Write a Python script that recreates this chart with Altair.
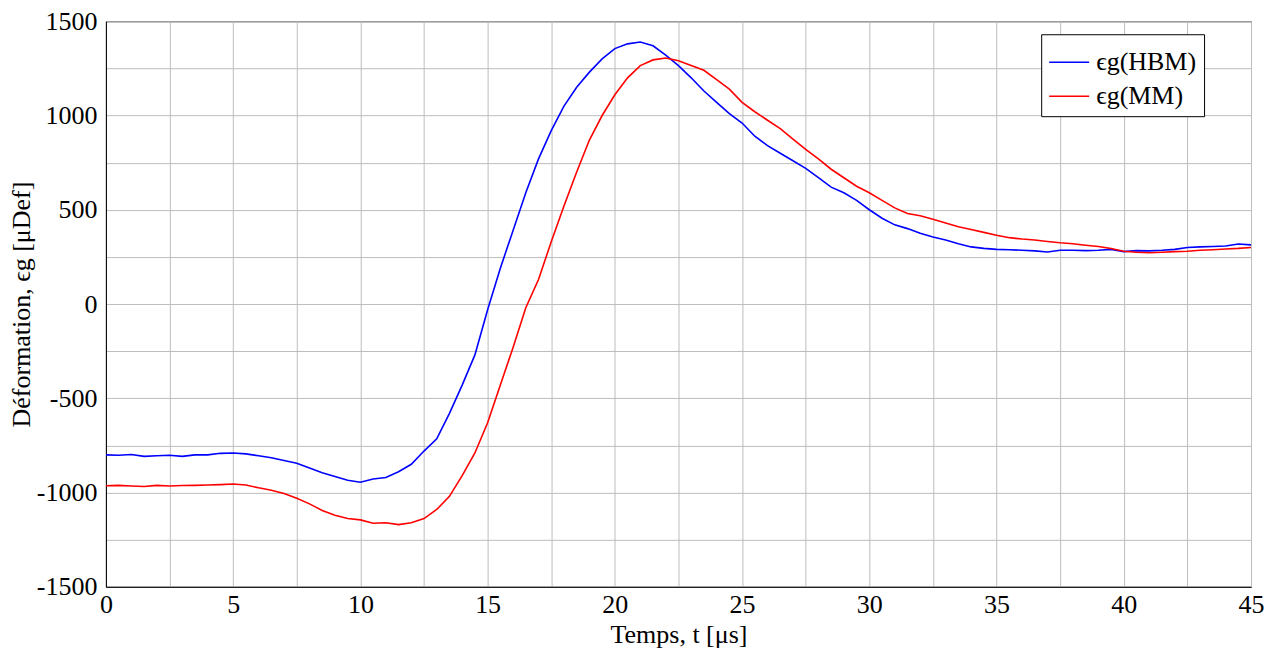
import altair as alt
import pandas as pd

t = [i * 0.5 for i in range(91)]

hbm = [-800, -802, -798, -808, -805, -802, -808, -800, -800, -792,
       -790, -795, -805, -815, -830, -845, -870, -895, -915, -935,
       -945, -928, -920, -890, -850, -780, -715, -580, -430, -270,
       -30, 190, 390, 590, 770, 920, 1050, 1150, 1230, 1300,
       1355, 1380, 1390, 1370, 1320, 1265, 1200, 1130, 1070, 1010,
       960, 890, 840, 800, 760, 720, 670, 620, 590, 550,
       500, 455, 420, 400, 375, 355, 340, 320, 303, 295,
       290, 288, 285, 282, 276, 285, 285, 283, 285, 290,
       278, 283, 282, 285, 290, 300, 303, 305, 308, 318, 314]

mm = [-964, -962, -965, -968, -962, -965, -963, -962, -960, -958,
      -955, -960, -975, -988, -1005, -1030, -1060, -1095, -1120, -1138,
      -1145, -1163, -1160, -1170, -1160, -1138, -1090, -1020, -910, -790,
      -630, -430, -230, -20, 130, 330, 520, 700, 870, 1000,
      1110, 1200, 1265, 1295, 1305, 1290, 1265, 1240, 1190, 1140,
      1070, 1020, 975, 930, 875, 820, 770, 715, 670, 625,
      590, 550, 510, 480, 468, 450, 430, 410, 395, 380,
      365, 352, 345, 340, 332, 325, 320, 312, 305, 295,
      280, 275, 272, 275, 278, 280, 285, 288, 292, 295, 300]

series_names = ["ϵg(HBM)", "ϵg(MM)"]
series_colors = ["#0000ff", "#ff0000"]

x_ticks = [i * 2.5 for i in range(19)]
y_ticks = [-1500 + i * 250 for i in range(13)]

rows = []
for name, vals in zip(series_names, [hbm, mm]):
    for ti, v in zip(t, vals):
        rows.append({"t": ti, "v": v, "s": name})
df = pd.DataFrame(rows)

FONT = "Liberation Serif"
FS = 26

chart = alt.Chart(df).mark_line(strokeWidth=1.6, clip=True).encode(
    x=alt.X("t:Q", scale=alt.Scale(domain=[0, 45], nice=False, zero=False),
            axis=alt.Axis(values=x_ticks, title="Temps, t [μs]",
                          labelExpr="datum.value % 5 == 0 ? datum.label : ''",
                          labelFlush=False, labelOverlap=False, ticks=False,
                          labelPadding=5, titlePadding=4)),
    y=alt.Y("v:Q", scale=alt.Scale(domain=[-1500, 1500], nice=False, zero=False),
            axis=alt.Axis(values=y_ticks, title="Déformation, ϵg [μDef]",
                          labelExpr="datum.value % 500 == 0 ? (datum.value < 0 ? '-' + abs(datum.value) : '' + datum.value) : ''",
                          labelFlush=False, labelOverlap=False, ticks=False,
                          labelPadding=9, titlePadding=2)),
    color=alt.Color("s:N", scale=alt.Scale(domain=series_names, range=series_colors),
                    legend=alt.Legend(title=None, orient="none", legendX=936, legendY=13,
                                      symbolType="stroke", symbolSize=1600, symbolStrokeWidth=1.6,
                                      labelFont=FONT, labelFontSize=FS, strokeColor="black",
                                      fillColor="white", padding=7, rowPadding=0,
                                      labelOffset=6)),
    detail="s:N",
).properties(
    width=1146, height=566,
    autosize=alt.AutoSizeParams(type="none"),
    padding={"left": 98, "top": 13, "right": 20, "bottom": 75},
).configure_view(
    stroke="black", strokeWidth=1
).configure_axis(
    labelFont=FONT, titleFont=FONT, labelFontSize=FS, titleFontSize=FS,
    titleFontWeight="normal", labelColor="black", titleColor="black",
    gridColor="#bdbdbd", gridWidth=1, domainColor="black", domainWidth=1,
)

chart.save("out.html", embed_options={"renderer": "svg", "actions": False})
